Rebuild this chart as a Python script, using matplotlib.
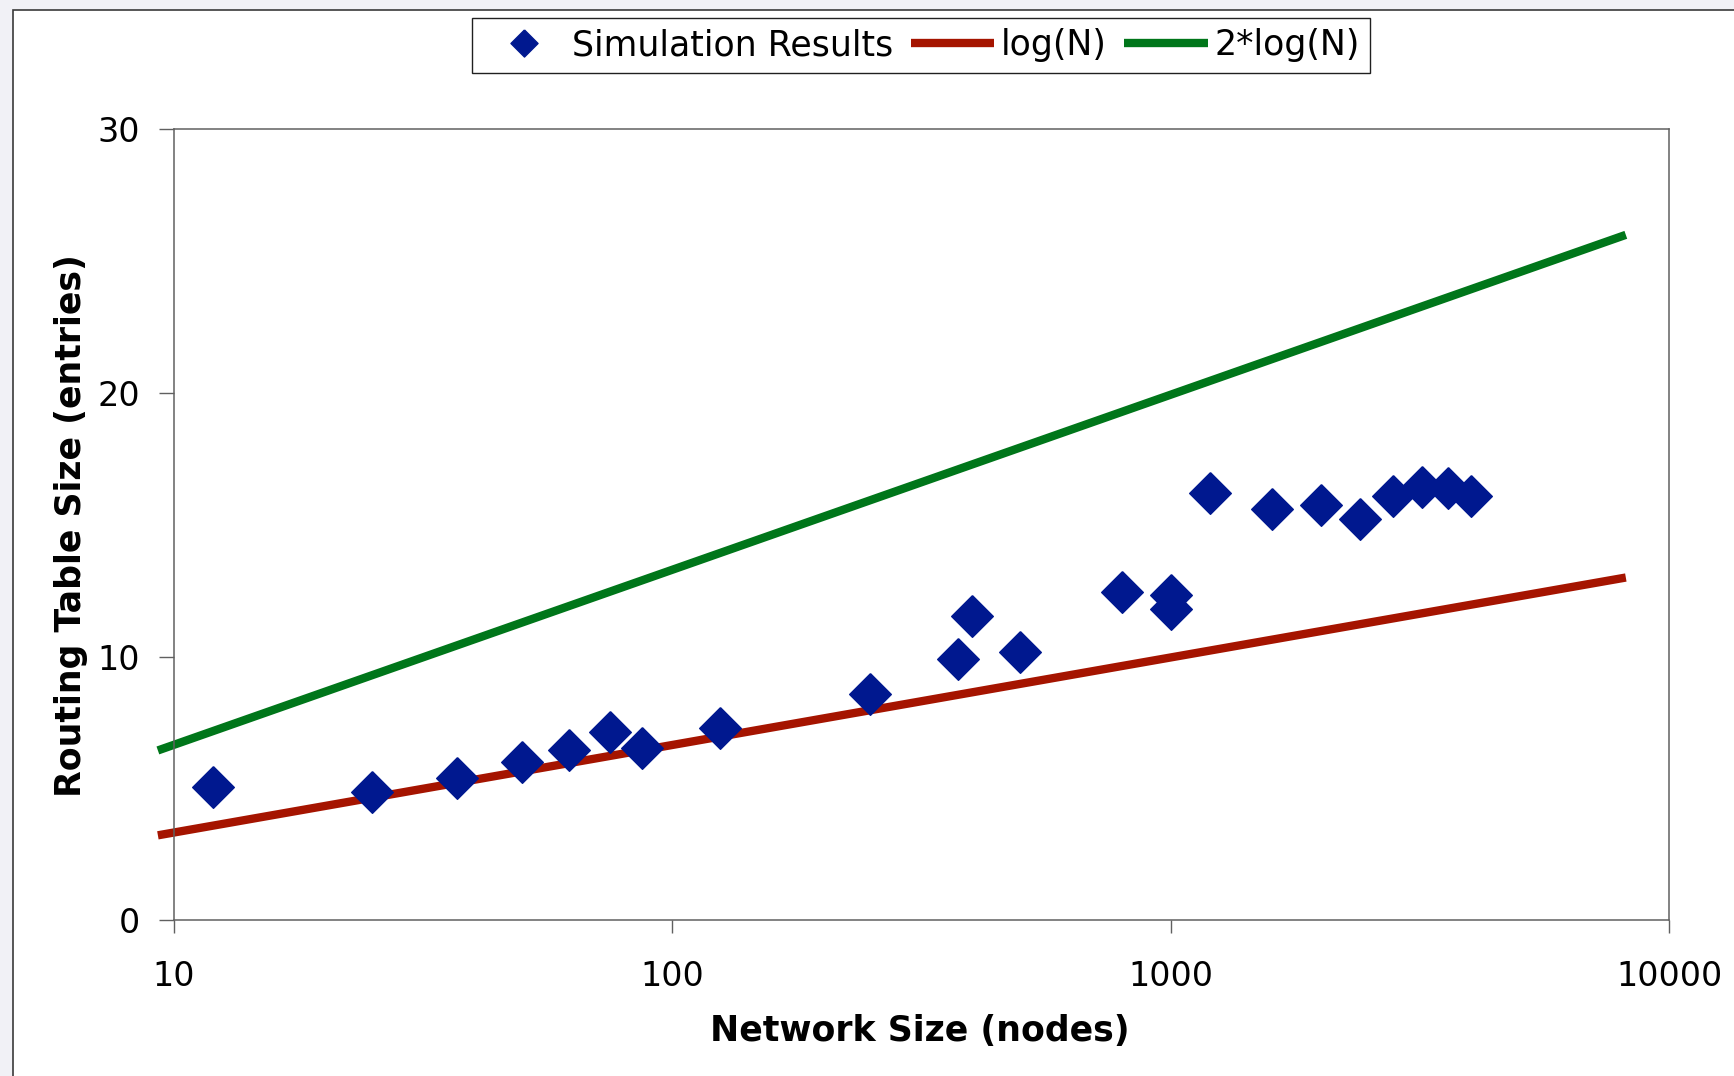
import matplotlib
matplotlib.use("Agg")
import matplotlib.pyplot as plt
from matplotlib.patches import Rectangle

plt.rcParams['font.family'] = ['DejaVu Sans']

# simulation results (network size, routing table entries)
sim_nodes = [12, 25, 37, 50, 62, 75, 87, 125, 250, 375, 400, 500,
             800, 1000, 1000, 1200, 1600, 2000, 2400, 2800, 3200, 3600, 4000]
sim_entries = [5.05, 4.87, 5.41, 6.0, 6.46, 7.13, 6.55, 7.30, 8.60, 9.90, 11.54, 10.16,
               12.46, 12.34, 11.80, 16.2, 15.61, 15.74, 15.23, 16.11, 16.45, 16.41, 16.11]

# reference curves, read at their end points
ref_nodes = [9.3, 8192]
logn = [3.22, 13.0]
two_logn = [6.44, 26.0]

x_ticks = [10, 100, 1000, 10000]
y_ticks = [0, 10, 20, 30]

navy = '#00188F'
red = '#A51400'
green = '#00761A'

fig = plt.figure(figsize=(17.34, 10.76), dpi=100)
fig.patch.set_facecolor('#F1F1F6')

# white chart area with border on left/top
W, H = 1734, 1076
bg = Rectangle((13 / W, -0.05), 1.1, (H - 9.5) / H + 0.05, transform=fig.transFigure,
               facecolor='white', edgecolor='#3a3a3a', linewidth=1.2, zorder=-1)
fig.patches.append(bg)

ax = fig.add_axes((173.6 / W, (H - 920.2) / H, (1669 - 173.6) / W, (920.2 - 129.4) / H))
ax.set_facecolor('white')

diamond = [(0, 1), (1, 0), (0, -1), (-1, 0), (0, 1)]

ax.plot(ref_nodes, logn, color=red, lw=6, label='log(N)', clip_on=False,
        solid_capstyle='butt', zorder=2)
ax.plot(ref_nodes, two_logn, color=green, lw=6, label='2*log(N)', clip_on=False,
        solid_capstyle='butt', zorder=2)
ax.plot(sim_nodes, sim_entries, linestyle='none', marker=diamond, markersize=30,
        color=navy, markeredgecolor=navy, markeredgewidth=1, label='Simulation Results',
        zorder=3)

ax.set_xscale('log')
ax.set_xlim(10, 10000)
ax.set_ylim(0, 30)
ax.set_xticks(x_ticks)
ax.set_xticklabels([str(t) for t in x_ticks])
ax.set_yticks(y_ticks)
ax.set_yticklabels([str(t) for t in y_ticks])
ax.minorticks_off()

for s in ax.spines.values():
    s.set_color('#606060')
    s.set_linewidth(1.1)
ax.tick_params(axis='x', which='major', length=9, width=1, color='#606060',
               pad=20, labelsize=24, direction='out')
ax.tick_params(axis='y', which='major', length=11, width=1, color='#606060',
               pad=13, labelsize=24, direction='out')

fig.text(920 / W, 1 - 1031 / H, 'Network Size (nodes)', fontsize=25,
         fontweight='bold', ha='center', va='center')
fig.text(71 / W, 1 - 526 / H, 'Routing Table Size (entries)', fontsize=25,
         fontweight='bold', ha='center', va='center', rotation=90)

handles, labels = ax.get_legend_handles_labels()
order = [2, 0, 1]
leg = fig.legend([handles[i] for i in order], [labels[i] for i in order],
                 loc='center', bbox_to_anchor=(921 / W, 1 - 45.5 / H), ncol=3,
                 fontsize=25, frameon=True, fancybox=False, edgecolor='#202020',
                 framealpha=1, handlelength=2.4, handletextpad=0.2,
                 columnspacing=0.5, borderpad=0.3, markerscale=0.65)
leg.get_frame().set_linewidth(1.0)

fig.savefig('out.png', dpi=100, facecolor=fig.get_facecolor())
